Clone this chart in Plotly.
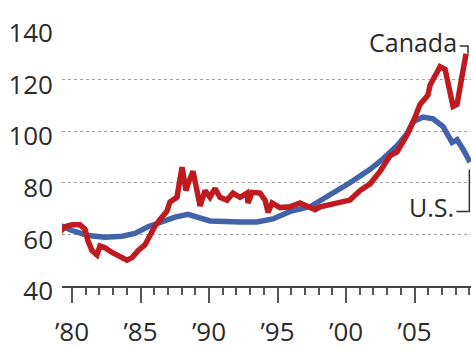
import plotly.graph_objects as go

# Canada (red) – decimal years and index values
canada_x = [1979.12, 1979.49, 1980.0, 1980.58, 1980.95, 1981.17, 1981.46, 1981.82, 1982.04, 1982.41,
            1982.92, 1983.36, 1984.01, 1984.38, 1984.82, 1985.33, 1985.69, 1986.06, 1986.57, 1986.93,
            1987.15, 1987.66, 1988.03, 1988.32, 1988.47, 1988.83, 1989.35, 1989.71, 1990.07, 1990.44,
            1990.80, 1991.31, 1991.75, 1992.26, 1992.77, 1992.85, 1993.14, 1993.72, 1994.09, 1994.31,
            1994.60, 1995.18, 1995.91, 1996.64, 1997.37, 1997.74, 1998.10, 1999.56, 2000.29, 2001.02,
            2001.75, 2002.48, 2003.21, 2003.72, 2004.45, 2004.89, 2005.40, 2005.98, 2006.13, 2006.86,
            2007.23, 2007.81, 2008.10, 2008.47, 2008.76]
canada_y = [61, 63, 63.7, 63.7, 62, 57.4, 53.7, 52, 55.5, 54.8,
            53, 51.8, 50, 51, 53.7, 56, 59.6, 63.3, 66.7, 69,
            72.6, 74.4, 86, 77, 79.6, 84.5, 71, 77, 74.4, 77.8,
            74.4, 73.3, 76, 74.4, 76, 72.2, 76.3, 76, 73.3, 68.5,
            72.2, 70.4, 70.7, 72.2, 70.4, 69.6, 70.7, 72.6, 73.3, 77,
            79.6, 84.4, 90.5, 92, 98.5, 103.5, 110.4, 114, 117.8, 125,
            124, 109.6, 110.4, 121.5, 130]

# U.S. (blue)
us_x = [1979.12, 1980.0, 1981.17, 1982.41, 1983.65, 1984.60, 1985.55, 1986.57, 1987.52, 1988.47,
        1989.20, 1990.07, 1992.26, 1993.50, 1994.67, 1995.91, 1997.37, 1998.83, 2000.29, 2001.75,
        2002.70, 2003.72, 2004.45, 2004.89, 2005.62, 2006.35, 2007.08, 2007.74, 2008.10, 2008.54,
        2009.05]
us_y = [63.5, 61.5, 59.6, 58.9, 59.3, 60.4, 63, 65.2, 66.7, 67.8,
        66.7, 65.2, 64.8, 64.8, 66, 68.9, 70.7, 75.2, 80, 85.2,
        89.3, 94.4, 99, 103.7, 105.5, 104.8, 101.8, 95.6, 96.7, 93,
        88]

y_ticks = [40, 60, 80, 100, 120, 140]
x_ticks = [1980, 1985, 1990, 1995, 2000, 2005]
x_tick_labels = ["\u201980", "\u201985", "\u201990", "\u201995", "\u201900", "\u201905"]

FONT = "Open Sans"
TXT = "#2b2b2b"
RED = "#c01a1f"
BLUE = "#4263aa"

fig = go.Figure()
fig.add_trace(go.Scatter(x=us_x, y=us_y, mode="lines",
                         line=dict(color=BLUE, width=5.5), hoverinfo="skip"))
fig.add_trace(go.Scatter(x=canada_x, y=canada_y, mode="lines",
                         line=dict(color=RED, width=5.5), hoverinfo="skip"))

fig.update_layout(
    width=471, height=349,
    margin=dict(l=62, r=0, t=28, b=49),
    paper_bgcolor="white", plot_bgcolor="white",
    showlegend=False,
    font=dict(family=FONT, color=TXT, size=25),
    xaxis=dict(
        range=[1979.27, 2009.12],
        tickmode="array", tickvals=x_ticks, ticktext=x_tick_labels,
        ticks="outside", ticklen=15, tickwidth=2, tickcolor="#555",
        minor=dict(tick0=1980, dtick=1, ticks="outside", ticklen=7, tickwidth=2, tickcolor="#555"),
        showline=True, linecolor="#444", linewidth=2,
        showgrid=False, zeroline=False,
        tickfont=dict(size=26, color=TXT, family=FONT),
        ticklabelstandoff=7,
    ),
    yaxis=dict(
        range=[40, 140],
        tickmode="array", tickvals=y_ticks, ticktext=[str(v) for v in y_ticks],
        ticks="", showline=False, zeroline=False,
        showgrid=True, gridcolor="#a0a0a0", griddash="dot", gridwidth=1,
        tickfont=dict(size=26, color=TXT, family=FONT),
        ticklabelstandoff=8, ticklabelshift=5,
    ),
)

# Labels with bracket connectors
fig.add_annotation(x=2008.25, y=134.4, text="Canada", showarrow=False,
                   xanchor="right", yanchor="middle",
                   font=dict(size=25, color=TXT, family=FONT))
fig.add_annotation(x=2008.0, y=70.7, text="U.S.", showarrow=False,
                   xanchor="right", yanchor="middle",
                   font=dict(size=25, color=TXT, family=FONT))

fig.add_shape(type="path", path="M 2008.3,133 L 2008.9,133 L 2008.9,130",
              line=dict(color="#333", width=1.5), xref="x", yref="y")
fig.add_shape(type="path", path="M 2008.05,68.9 L 2009.0,68.9 L 2009.0,85.2",
              line=dict(color="#333", width=1.5), xref="x", yref="y")

fig.write_html("out.html")
